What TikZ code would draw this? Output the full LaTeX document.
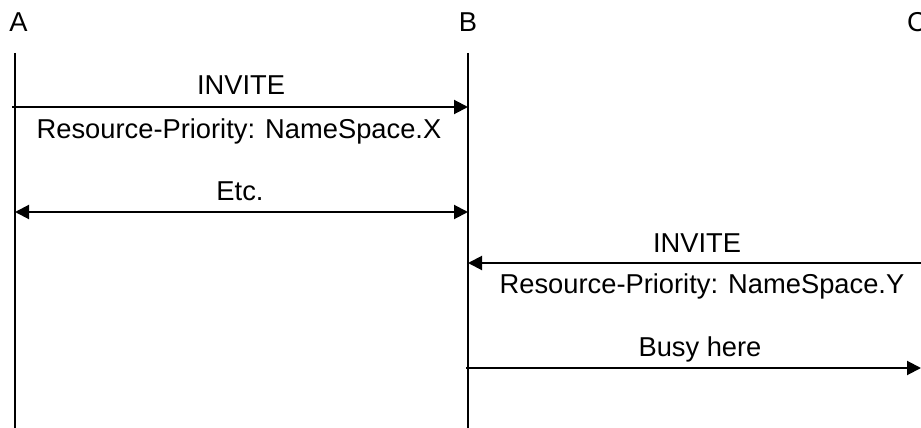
\documentclass[tikz,border=0pt]{standalone}
\usepackage{fontspec}
\setmainfont{Liberation Sans}
\usetikzlibrary{arrows.meta}
\begin{document}
\begin{tikzpicture}[x=1pt,y=-1pt,
  lbl/.style={anchor=base,inner sep=0pt,font=\fontsize{27.3}{30}\selectfont},
  life/.style={line width=2pt},
  msg/.style={line width=2pt,-{Triangle[length=14pt,width=14pt]}},
  msgboth/.style={line width=2pt,{Triangle[length=14pt,width=14pt]}-{Triangle[length=14pt,width=14pt]}}]
\useasboundingbox (0,0) rectangle (921,428);
% participants
\node[lbl] (A) at (18.5,32) {A};
\node[lbl] (B) at (468,32) {B};
\node[lbl] (C) at (917,32) {C};
% lifelines
\coordinate (Atop) at (15,53); \coordinate (Abot) at (15,428);
\coordinate (Btop) at (468,53); \coordinate (Bbot) at (468,428);
\draw[life] (Atop) -- (Abot);
\draw[life] (Btop) -- (Bbot);
% message 1
\coordinate (m1s) at (12,107); \coordinate (m1e) at (468,107);
\draw[msg] (m1s) -- (m1e);
\node[lbl] (t1) at (241,95) {INVITE};
\node[lbl] (t2) at (239,138) {Resource-Priority: NameSpace.X};
% message 2
\coordinate (m2s) at (15,212); \coordinate (m2e) at (468,212);
\draw[msgboth] (m2s) -- (m2e);
\node[lbl] (t3) at (240,200) {Etc.};
% message 3
\coordinate (m3s) at (921,263); \coordinate (m3e) at (468,263);
\draw[msg] (m3s) -- (m3e);
\node[lbl] (t4) at (697,252) {INVITE};
\node[lbl] (t5) at (702,293) {Resource-Priority: NameSpace.Y};
% message 4
\coordinate (m4s) at (466,368); \coordinate (m4e) at (921,368);
\draw[msg] (m4s) -- (m4e);
\node[lbl] (t6) at (700,356) {Busy here};
\end{tikzpicture}
\end{document}
